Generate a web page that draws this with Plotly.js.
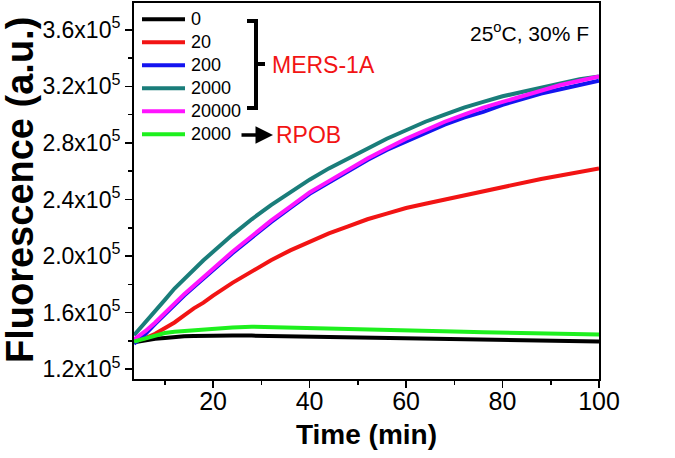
<!DOCTYPE html>
<html>
<head>
<meta charset="utf-8">
<script src="https://cdn.plot.ly/plotly-3.0.1.min.js"></script>
<style>html,body{margin:0;padding:0;background:#fff;}#chart{width:675px;height:458px;}</style>
</head>
<body>
<div id="chart"></div>
<script>
// ---- data ----
const time = [3.6, 6, 8, 10, 12, 14, 16, 18, 20, 24, 28, 32, 36, 40, 44, 48, 52, 56, 60, 64, 68, 72, 76, 80, 84, 88, 92, 96, 100];

const seriesNames = ["0", "20", "200", "2000", "20000", "2000"];
const seriesColors = ["#000000", "#f21414", "#1414f0", "#1a7d7a", "#ff14ff", "#1ef01e"];

const conc0 = [1.390e5, 1.405e5, 1.415e5, 1.420e5, 1.428e5, 1.432e5, 1.435e5, 1.437e5, 1.438e5, 1.438e5, 1.437e5, 1.435e5, 1.432e5, 1.430e5, 1.428e5, 1.425e5, 1.422e5, 1.420e5, 1.418e5, 1.415e5, 1.413e5, 1.410e5, 1.408e5, 1.405e5, 1.403e5, 1.400e5, 1.398e5, 1.397e5, 1.395e5];
const conc20 = [1.40e5, 1.42e5, 1.45e5, 1.49e5, 1.53e5, 1.58e5, 1.63e5, 1.67e5, 1.72e5, 1.81e5, 1.89e5, 1.97e5, 2.04e5, 2.10e5, 2.16e5, 2.21e5, 2.26e5, 2.30e5, 2.34e5, 2.37e5, 2.40e5, 2.43e5, 2.46e5, 2.49e5, 2.52e5, 2.545e5, 2.57e5, 2.595e5, 2.62e5];
const conc200 = [1.38e5, 1.45e5, 1.52e5, 1.59e5, 1.66e5, 1.72e5, 1.78e5, 1.84e5, 1.90e5, 2.02e5, 2.13e5, 2.24e5, 2.34e5, 2.44e5, 2.52e5, 2.60e5, 2.68e5, 2.75e5, 2.81e5, 2.87e5, 2.93e5, 2.98e5, 3.02e5, 3.07e5, 3.11e5, 3.15e5, 3.18e5, 3.21e5, 3.24e5];
const conc2000 = [1.44e5, 1.53e5, 1.61e5, 1.69e5, 1.77e5, 1.84e5, 1.91e5, 1.97e5, 2.03e5, 2.15e5, 2.26e5, 2.36e5, 2.45e5, 2.54e5, 2.62e5, 2.69e5, 2.76e5, 2.83e5, 2.89e5, 2.95e5, 3.00e5, 3.05e5, 3.09e5, 3.13e5, 3.16e5, 3.19e5, 3.22e5, 3.25e5, 3.27e5];
const conc20000 = [1.41e5, 1.47e5, 1.53e5, 1.60e5, 1.67e5, 1.73e5, 1.79e5, 1.85e5, 1.91e5, 2.03e5, 2.14e5, 2.25e5, 2.35e5, 2.45e5, 2.53e5, 2.61e5, 2.69e5, 2.76e5, 2.83e5, 2.89e5, 2.95e5, 3.00e5, 3.05e5, 3.09e5, 3.13e5, 3.17e5, 3.21e5, 3.24e5, 3.27e5];
const rpob2000 = [1.395e5, 1.42e5, 1.44e5, 1.455e5, 1.465e5, 1.47e5, 1.48e5, 1.485e5, 1.49e5, 1.495e5, 1.50e5, 1.497e5, 1.495e5, 1.493e5, 1.49e5, 1.488e5, 1.485e5, 1.48e5, 1.478e5, 1.473e5, 1.468e5, 1.465e5, 1.46e5, 1.458e5, 1.455e5, 1.452e5, 1.45e5, 1.448e5, 1.445e5];

const seriesValues = [conc0, conc20, conc200, conc2000, conc20000, rpob2000];

const yTickVals = [1.2e5, 1.6e5, 2.0e5, 2.4e5, 2.8e5, 3.2e5, 3.6e5];
const yTickText = ["1.2x10<sup>5</sup>", "1.6x10<sup>5</sup>", "2.0x10<sup>5</sup>", "2.4x10<sup>5</sup>", "2.8x10<sup>5</sup>", "3.2x10<sup>5</sup>", "3.6x10<sup>5</sup>"];

// ---- layout helpers ----
const W = 675, H = 458, L = 134, R = 599, T = 3, B = 379;
const px = x => (x - L) / (R - L);
const py = y => (B - y) / (B - T);
const FONT = "Liberation Sans, Arial, sans-serif";

const traces = seriesValues.map((vals, i) => ({
  x: time, y: vals, type: "scatter", mode: "lines",
  name: seriesNames[i], line: {color: seriesColors[i], width: 4}, showlegend: false, hoverinfo: "skip"
}));

const shapes = [];
const annotations = [];
seriesNames.forEach((n, i) => {
  const yy = 19.3 + 23 * i;
  shapes.push({type: "line", xref: "paper", yref: "paper", x0: px(142), x1: px(185), y0: py(yy), y1: py(yy),
    line: {color: seriesColors[i], width: 4}});
  annotations.push({xref: "paper", yref: "paper", x: px(189), y: py(yy), xanchor: "left", yanchor: "middle",
    text: n, showarrow: false, font: {family: FONT, size: 18, color: "#000"}});
});
// bracket
shapes.push({type: "path", xref: "paper", yref: "paper",
  path: `M ${px(247)} ${py(21)} L ${px(256)} ${py(21)} L ${px(256)} ${py(108)} L ${px(247)} ${py(108)} M ${px(256)} ${py(64)} L ${px(265)} ${py(64)}`,
  line: {color: "#000", width: 4}});
annotations.push({xref: "paper", yref: "paper", x: px(270), y: py(65), xanchor: "left", yanchor: "middle",
  text: "MERS-1A", showarrow: false, font: {family: FONT, size: 23, color: "#f21414"}});
annotations.push({xref: "paper", yref: "paper", x: px(273), y: py(135), ax: -33, ay: 0, text: "",
  showarrow: true, arrowhead: 2, arrowsize: 1, arrowwidth: 3.5, arrowcolor: "#000"});
annotations.push({xref: "paper", yref: "paper", x: px(274), y: py(135), xanchor: "left", yanchor: "middle",
  text: "RPOB", showarrow: false, font: {family: FONT, size: 23, color: "#f21414"}});
annotations.push({xref: "paper", yref: "paper", x: px(591), y: py(32), xanchor: "right", yanchor: "middle",
  text: "25<sup>o</sup>C, 30% F", showarrow: false, font: {family: FONT, size: 21, color: "#000"}});
// y-axis title
annotations.push({xref: "paper", yref: "paper", x: -(L - 20) / (R - L), y: py(190), xanchor: "center", yanchor: "middle",
  textangle: -90, text: "<b>Fluorescence (a.u.)</b>", showarrow: false, font: {family: FONT, size: 38, color: "#000"}});

const layout = {
  width: W, height: H,
  margin: {l: L, r: W - R, t: T, b: H - B, pad: 0},
  paper_bgcolor: "#fff", plot_bgcolor: "#fff",
  font: {family: FONT, color: "#000"},
  showlegend: false,
  xaxis: {
    range: [3.6, 100], tickmode: "linear", tick0: 0, dtick: 20,
    ticks: "outside", ticklen: 7, tickwidth: 1.5, tickcolor: "#000",
    minor: {tickmode: "linear", tick0: 0, dtick: 10, ticks: "outside", ticklen: 4, tickwidth: 1.5, tickcolor: "#000"},
    showline: true, linecolor: "#000", linewidth: 2, mirror: true,
    showgrid: false, zeroline: false, ticklabelstandoff: -8,
    tickfont: {family: FONT, size: 25, color: "#000"},
    title: {text: "<b>Time (min)</b>", font: {family: FONT, size: 28, color: "#000"}, standoff: 10}
  },
  yaxis: {
    range: [1.13e5, 3.79e5], tickmode: "array", tickvals: yTickVals, ticktext: yTickText,
    ticks: "outside", ticklen: 7, tickwidth: 1.5, tickcolor: "#000",
    minor: {tickmode: "linear", tick0: 0, dtick: 20000, ticks: "outside", ticklen: 4, tickwidth: 1.5, tickcolor: "#000"},
    showline: true, linecolor: "#000", linewidth: 2, mirror: true,
    showgrid: false, zeroline: false,
    tickfont: {family: FONT, size: 23, color: "#000"}
  },
  shapes: shapes,
  annotations: annotations
};

Plotly.newPlot("chart", traces, layout, {displayModeBar: false, staticPlot: true});
</script>
</body>
</html>
